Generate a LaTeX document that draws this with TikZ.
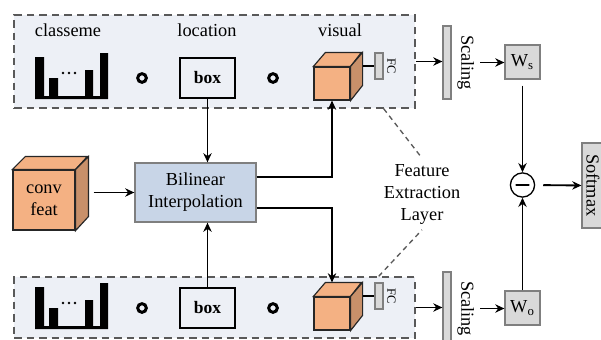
\documentclass[tikz,border=0pt]{standalone}
\usepackage{fontspec}
\setmainfont{Liberation Serif}
\usetikzlibrary{arrows.meta,calc}
\definecolor{panelbg}{HTML}{EDF0F6}
\definecolor{dashgray}{HTML}{595959}
\definecolor{boxgray}{HTML}{7F7F7F}
\definecolor{barfill}{HTML}{D9D9D9}
\definecolor{bilfill}{HTML}{C8D5E7}
\definecolor{cubefront}{HTML}{F4B183}
\definecolor{cubeside}{HTML}{C8906A}
\tikzset{
  featbox/.style={draw=dashgray, fill=panelbg, dash pattern=on 4.5pt off 3pt, line width=0.8pt},
  graybox/.style={draw=boxgray, fill=barfill, line width=0.7pt, inner sep=0pt},
  cubeface/.style={draw=black!85, line width=0.7pt},
  conn/.style={line width=1.1pt, -{Stealth[length=5.5pt,width=5pt]}},
  pointer/.style={dashgray, line width=0.8pt, dash pattern=on 3pt off 2.4pt},
}
\begin{document}
\begin{tikzpicture}[x=0.6pt,y=-0.6pt,font=\fontsize{11}{13.2}\selectfont]
\useasboundingbox (0,0) rectangle (601,340);
% feature panels
\node[featbox, minimum width=240.6pt, minimum height=55.8pt] (pans) at (214.5,61.5) {};
\node[featbox, minimum width=240.6pt, minimum height=36.6pt] (pano) at (214.5,307.5) {};
\node (lclass) at (68,30) {classeme};
\node (lloc) at (207,30) {location};
\node (lvis) at (340,30) {visual};
% one row per panel
\foreach \r/\oy/\sy in {s/0/0,o/230/246}{
  \begin{scope}[shift={(0,\oy)}]
    \fill (35,57) rectangle (44,99) (49,78) rectangle (58,99) (85,70) rectangle (93,99)
          (100,53) rectangle (108,99) (35,96) rectangle (108,99);
    \foreach \dx in {63,69,75} \fill (\dx,73) circle (0.8pt);
    \draw[line width=1.8pt] (142,78) circle (2.6pt) (273,78) circle (2.6pt);
    \node[draw, line width=0.7pt, minimum width=33pt, minimum height=24pt,
          font=\fontsize{10.5}{13.2}\selectfont\bfseries] (loc\r) at (207.5,78) {box};
    % visual cube
    \node[cubeface, fill=cubefront, minimum width=21.6pt, minimum height=19.8pt, inner sep=0pt] (vis\r) at (332,83.5) {};
    \draw[cubeface, fill=cubefront] (vis\r.north west) -- ++(12,-14) -- ++(36,0) -- (vis\r.north east) -- cycle;
    \draw[cubeface, fill=cubeside] (vis\r.north east) -- ++(12,-14) -- ++(0,33) -- (vis\r.south east) -- cycle;
    \node[graybox, minimum width=4.8pt, minimum height=15.6pt] (fc\r) at (379,66) {};
    \coordinate (side\r) at ([xshift=7.2pt]vis\r.east);
    \draw[line width=0.8pt] (side\r |- fc\r.west) -- (fc\r.west);
    \node[rotate=-90, anchor=south, inner sep=2pt, font=\fontsize{7.5}{9}\selectfont] (fcl\r) at (fc\r.east) {FC};
  \end{scope}
  \begin{scope}[shift={(0,\sy)}]
    \node[graybox, minimum width=4.8pt, minimum height=43.8pt] (scal\r) at (447,62.5) {};
    \node[rotate=-90, anchor=south] (scl\r) at (scal\r.east) {Scaling};
    \node[graybox, minimum width=21pt, minimum height=20.4pt] (w\r) at (522.5,62) {W\textsubscript{\r}};
  \end{scope}
  \draw[conn] (pan\r.east) -- (pan\r.east -| scal\r.west);
  \draw[conn] (scl\r.north) -- (scl\r.north -| w\r.west);
}
% shared part
\node[cubeface, fill=cubefront, minimum width=37.2pt, minimum height=36pt, inner sep=0pt, align=center] (conv) at (44,200) {conv\\feat};
\draw[cubeface, fill=cubefront] (conv.north west) -- ++(13,-13) -- ++(62,0) -- (conv.north east) -- cycle;
\draw[cubeface, fill=cubeside] (conv.north east) -- ++(13,-13) -- ++(0,60) -- (conv.south east) -- cycle;
\node[draw=boxgray, fill=bilfill, line width=0.8pt, minimum width=72.6pt, minimum height=35.4pt, align=center] (bil) at (195.5,192.5) {Bilinear\\Interpolation};
\coordinate (convside) at ([xshift=10.8pt]conv.east);
\draw[conn] (convside |- bil.west) -- (bil.west);
\draw[conn] (locs.south) -- (locs.south |- bil.north);
\draw[conn] (loco.north) -- (loco.north |- bil.south);
\coordinate (visotop) at ([yshift=8.4pt]viso.north);
\draw[conn] ([yshift=9.3pt]bil.east) -| (viss.south);
\draw[conn] ([yshift=-9.3pt]bil.east) -| (visotop);
% feature extraction label
\node[align=center] (fel) at (422,194) {Feature\\Extraction\\Layer};
\draw[pointer] ([xshift=-19.2pt]pans.south east) -- (fel.north);
\draw[pointer] ([xshift=-22.2pt]pano.north east) -- (fel.south);
% difference and softmax
\node[circle, draw, fill=white, line width=0.8pt, minimum size=14.5pt, inner sep=0pt] (diff) at (522.5,185) {};
\draw[line width=1.6pt, line cap=round] ([xshift=-3.6pt]diff.center) -- ([xshift=3.6pt]diff.center);
\draw[conn, shorten <=3.6pt] (ws.south) -- (diff.north);
\draw[conn] (wo.north) -- (diff.south);
\node[graybox, minimum width=13.2pt, minimum height=51pt] (soft) at (593,185.5) {};
\node[rotate=-90] (softl) at (soft.center) {Softmax};
\draw[conn, shorten <=4.8pt] (diff.east) -- (soft.west);
\end{tikzpicture}
\end{document}
